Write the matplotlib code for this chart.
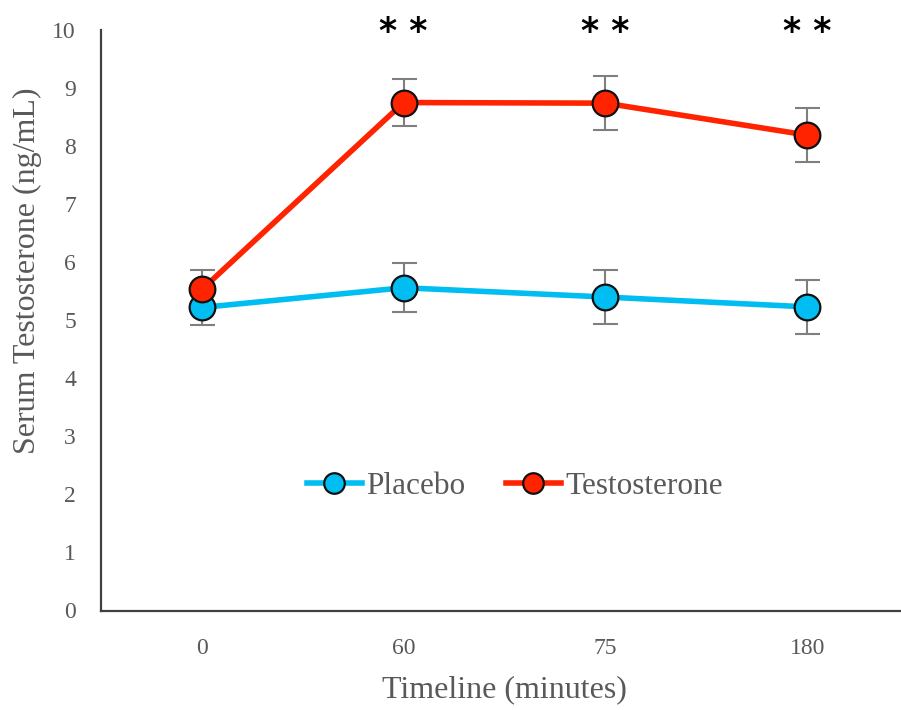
import matplotlib
matplotlib.use("Agg")
import matplotlib.pyplot as plt
import numpy as np

categories = ["0", "60", "75", "180"]
placebo = [5.22, 5.56, 5.40, 5.23]
placebo_err = [0.31, 0.42, 0.465, 0.47]
testo = [5.53, 8.75, 8.74, 8.19]
testo_err = [0.33, 0.41, 0.47, 0.47]
sig_labels = ["", "**", "**", "**"]
yticks = list(range(0, 11))

plt.rcParams['font.family'] = ['Liberation Serif', 'DejaVu Serif']
gray = '#595959'

fig = plt.figure(figsize=(9.01, 7.10), dpi=100)
ax = fig.add_axes([101/901, 1-610.5/710, 807/901, 580.5/710])
x = np.arange(len(categories))

blue = '#00BDF2'
red = '#FF2300'
ax.errorbar(x, placebo, yerr=placebo_err, fmt='none', ecolor='#7f7f7f',
            elinewidth=1.5, capsize=9, capthick=1.5, zorder=2)
ax.errorbar(x, testo, yerr=testo_err, fmt='none', ecolor='#7f7f7f',
            elinewidth=1.5, capsize=9, capthick=1.5, zorder=2)
ax.plot(x, placebo, color=blue, lw=4, marker='o', ms=18.5, mfc=blue,
        mec='#111111', mew=1.6, label='Placebo', zorder=3)
ax.plot(x, testo, color=red, lw=4, marker='o', ms=18.5, mfc=red,
        mec='#111111', mew=1.6, label='Testosterone', zorder=4)

for xi, s in zip(x, sig_labels):
    if s:
        ax.text(xi, 9.96, s.replace('*', '* ').strip(), ha='center', va='center',
                fontsize=25, fontweight='bold', family='DejaVu Sans',
                color='black', clip_on=False)

ax.set_xlim(-0.5, 3.5)
ax.set_ylim(0, 10)
ax.set_xticks(x)
ax.set_xticklabels(categories)
ax.set_yticks(yticks)
ax.tick_params(axis='both', length=0, labelsize=17, labelcolor=gray)
ax.tick_params(axis='x', pad=19.5)
ax.tick_params(axis='y', pad=18)

for sp in ['top', 'right']:
    ax.spines[sp].set_visible(False)
for sp in ['left', 'bottom']:
    ax.spines[sp].set_color('#404040')
    ax.spines[sp].set_linewidth(1.6)

ax.set_xlabel('Timeline (minutes)', fontsize=23, color=gray, labelpad=12)
ax.set_ylabel('Serum Testosterone (ng/mL)', fontsize=23, color=gray)
ax.yaxis.set_label_coords(-0.073, 0.586)

leg = ax.legend(loc='center', bbox_to_anchor=(0.513, 0.213), ncol=2, frameon=False,
                fontsize=22.5, handlelength=1.75, columnspacing=1.3, handletextpad=0.15,
                markerscale=0.8)
for t in leg.get_texts():
    t.set_color(gray)

fig.savefig('out.png', dpi=100)
